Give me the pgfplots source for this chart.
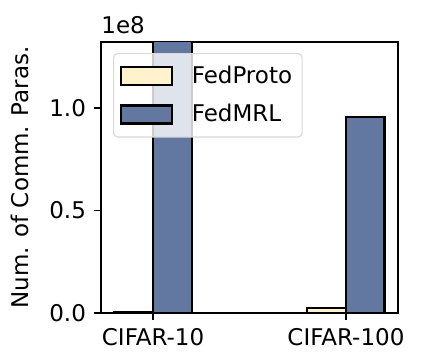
\documentclass[border=0pt]{standalone}
\usepackage{pgfplots}
\pgfplotsset{compat=1.18}
\usepackage{fontspec}
\setmainfont{DejaVu Sans}
\definecolor{protoC}{RGB}{255,242,204}
\definecolor{mrlC}{RGB}{98,120,160}
\begin{document}
\fontsize{11.5}{13.8}\selectfont
\begin{tikzpicture}
\begin{axis}[
  scale only axis,
  width=148.5pt, height=135.5pt,
  xmin=-0.27, xmax=1.27,
  ymin=0, ymax=1.322,
  xtick={0,1}, xticklabels={CIFAR-10,CIFAR-100},
  ytick={0,0.5,1.0},
  yticklabel style={/pgf/number format/.cd, fixed, fixed zerofill, precision=1},
  /pgf/number format/assume math mode=true,
  tick align=outside,
  major tick length=3.5pt,
  xtick pos=bottom, ytick pos=left,
  axis line style={line width=0.85pt},
  every tick/.style={black, line width=0.85pt},
  ylabel={Num. of Comm. Paras.},
  ylabel style={yshift=2.5pt},
  ybar, bar width=0.2,
  legend style={at={(0,1)}, anchor=north west, xshift=6pt, yshift=-5.5pt,
    draw=black!15, rounded corners=2pt, fill=white, fill opacity=0.8, text opacity=1,
    line width=0.6pt, inner xsep=3pt, inner ysep=4pt,
    row sep=4.75pt,
    /tikz/every odd column/.append style={column sep=7.5pt},
    /tikz/every even column/.append style={column sep=5pt}},
  legend cell align=left,
  legend image code/.code={\draw[#1, sharp corners, fill opacity=1, line width=1.1pt] (0pt,-4.5pt) rectangle (25.5pt,4.5pt);},
]
\addplot[fill=protoC, draw=black, line width=1.1pt, bar shift=-0.1] coordinates {(0,0.005) (1,0.024)};
\addplot[fill=mrlC, draw=black, line width=1.1pt, bar shift=0.1] coordinates {(0,1.40) (1,0.956)};
\legend{FedProto, FedMRL}
\coordinate (nw) at (rel axis cs:0,1);
\coordinate (sw) at (rel axis cs:0,0);
\coordinate (ne) at (rel axis cs:1,1);
\end{axis}
\node[anchor=base west, inner sep=0pt] at ([yshift=4.5pt]nw) {1e8};
\pgfresetboundingbox
\useasboundingbox ([xshift=-50.5pt,yshift=-20.5pt]sw) rectangle ([xshift=22.5pt,yshift=21pt]ne);
\end{tikzpicture}
\end{document}
